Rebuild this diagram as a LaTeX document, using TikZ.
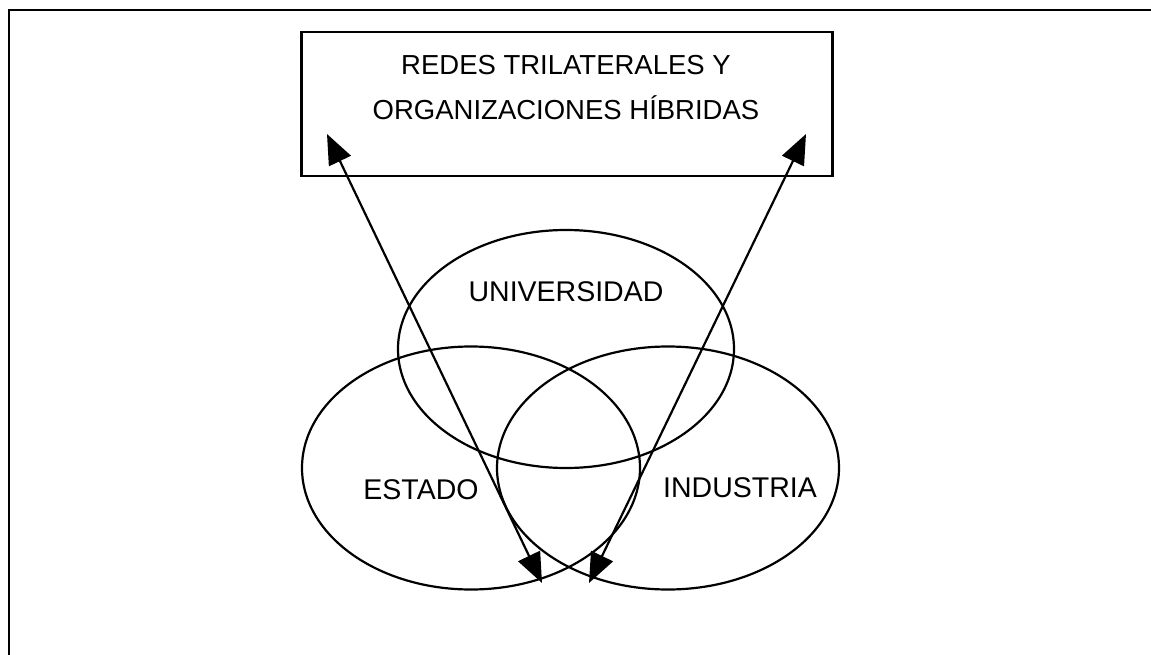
\documentclass[tikz,border=0pt]{standalone}
\usepackage{fontspec}
\setmainfont{Liberation Sans}
\usetikzlibrary{arrows.meta,shapes.geometric}
\begin{document}
\begin{tikzpicture}[x=1pt,y=-1pt,
  lbl/.style={font=\fontsize{28.5}{45}\selectfont, inner sep=0pt, align=center},
  boxlbl/.style={font=\fontsize{27.5}{45}\selectfont, inner sep=0pt, align=center},
  venn/.style={draw, line width=2.2pt, ellipse, minimum width=#1, inner sep=0pt},
  tip/.style={Triangle[length=30pt,width=24pt]},
  conn/.style={line width=2.2pt, {Triangle[length=30pt,width=24pt]}-{Triangle[length=30pt,width=24pt]}}
]
\useasboundingbox (0,0) rectangle (1151,655);
\draw[line width=2.5pt] (9,655) -- (9,10) -- (1151,10);
\node[draw, line width=2.2pt, minimum width=531pt, minimum height=144pt, inner sep=0pt] (box) at (567,104) {};
\node[boxlbl] (boxtext) at (566,88) {REDES TRILATERALES Y\\ORGANIZACIONES HÍBRIDAS};
\node[venn=336pt, minimum height=238pt] (uni) at (566,349) {};
\node[venn=338pt, minimum height=243pt] (est) at (471,468) {};
\node[venn=342pt, minimum height=243pt] (ind) at (668,468) {};
\node[lbl] (unit) at (566,292) {UNIVERSIDAD};
\node[lbl] (estt) at (421,490) {ESTADO};
\node[lbl] (indt) at (740,488) {INDUSTRIA};
\coordinate (c1) at (542,583);
\coordinate (c2) at (589,583);
\coordinate (t1) at (327,134);
\coordinate (t2) at (806,134);
\draw[conn] (t1) -- (c1);
\draw[conn] (t2) -- (c2);
\end{tikzpicture}
\end{document}
